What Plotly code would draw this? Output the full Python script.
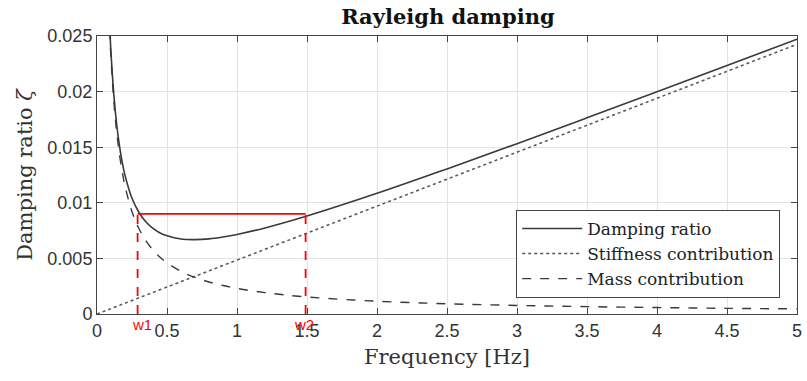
import plotly.graph_objects as go

# Frequencies [Hz] at which curves were read
freq = [0.09, 0.1, 0.12, 0.14, 0.16, 0.18, 0.2, 0.25, 0.3, 0.35, 0.4, 0.45, 0.5,
        0.6, 0.7, 0.8, 0.9, 1.0, 1.2, 1.5, 2.0, 2.5, 3.0, 3.5, 4.0, 4.5, 5.0]
damping = [0.0260, 0.02349, 0.01975, 0.01711, 0.01516, 0.01365, 0.01247, 0.01041,
           0.00913, 0.00827, 0.00769, 0.00729, 0.00703, 0.00674, 0.00669, 0.00676,
           0.00693, 0.00715, 0.00774, 0.00881, 0.01085, 0.01305, 0.01532, 0.01764,
           0.01998, 0.02234, 0.02471]
mass = [0.02556, 0.0230, 0.01917, 0.01643, 0.01438, 0.01278, 0.0115, 0.0092,
        0.00767, 0.00657, 0.00575, 0.00511, 0.0046, 0.00383, 0.00329, 0.00288,
        0.00256, 0.0023, 0.00192, 0.00153, 0.00115, 0.00092, 0.00077, 0.00066,
        0.00058, 0.00051, 0.00046]
stiff_freq = [0.0, 5.0]
stiffness = [0.0, 0.02425]

w1, w2 = 0.29, 1.49
zeta_target = 0.009

xticks = [0, 0.5, 1, 1.5, 2, 2.5, 3, 3.5, 4, 4.5, 5]
xticklabels = ["0", "0.5", "1", "1.5", "2", "2.5", "3", "3.5", "4", "4.5", "5"]
yticks = [0, 0.005, 0.01, 0.015, 0.02, 0.025]
yticklabels = ["0", "0.005", "0.01", "0.015", "0.02", "0.025"]

serif = "DejaVu Serif, serif"
sans = "Liberation Sans, Arial, sans-serif"

fig = go.Figure()
fig.add_trace(go.Scatter(x=freq, y=damping, mode="lines", name="Damping ratio",
                         line=dict(color="#3a3a3a", width=1.6, shape="spline")))
fig.add_trace(go.Scatter(x=stiff_freq, y=stiffness, mode="lines", name="Stiffness contribution",
                         line=dict(color="#555555", width=1.5, dash="dot")))
fig.add_trace(go.Scatter(x=freq, y=mass, mode="lines", name="Mass contribution",
                         line=dict(color="#3a3a3a", width=1.4, dash="dash", shape="spline")))

# red design markers
fig.add_trace(go.Scatter(x=[w1, w2], y=[zeta_target, zeta_target], mode="lines",
                         line=dict(color="red", width=1.8), showlegend=False))
fig.add_trace(go.Scatter(x=[w1, w1], y=[0, zeta_target], mode="lines",
                         line=dict(color="red", width=1.8, dash="dash"), showlegend=False))
fig.add_trace(go.Scatter(x=[w2, w2], y=[0, zeta_target], mode="lines",
                         line=dict(color="red", width=1.8, dash="dash"), showlegend=False))

for xv, lbl in [(w1 + 0.03, "w1"), (w2 - 0.01, "w2")]:
    fig.add_annotation(x=xv, y=0, xref="x", yref="y", text=lbl, showarrow=False,
                       yanchor="top", yshift=0, font=dict(color="red", size=15, family=sans))

axis_common = dict(showline=True, linecolor="#444444", linewidth=1, mirror="ticks",
                   ticks="inside", ticklen=6, tickcolor="#444444",
                   showgrid=True, gridcolor="#e3e3e3", gridwidth=1, zeroline=False,
                   ticklabeloverflow="allow",
                   tickfont=dict(family=sans, size=18, color="#333333"))

fig.update_xaxes(range=[0, 5], tickvals=xticks, ticktext=xticklabels,
                 title=dict(text="Frequency [Hz]", font=dict(family=serif, size=21, color="#333333"),
                            standoff=9), **axis_common)
fig.update_yaxes(range=[0, 0.025], tickvals=yticks, ticktext=yticklabels,
                 title=dict(text="Damping ratio <i>ζ</i>", font=dict(family=serif, size=21, color="#333333"),
                            standoff=9), **axis_common)

fig.update_layout(
    width=807, height=381,
    margin=dict(l=97, r=5, t=36, b=67),
    plot_bgcolor="white", paper_bgcolor="white",
    title=dict(text="<b>Rayleigh damping</b>", x=0.555, xanchor="center", y=0.955, yanchor="middle",
               font=dict(family=serif, size=21, color="#111111")),
    legend=dict(x=0.976, y=0.058, xanchor="right", yanchor="bottom",
                bgcolor="white", bordercolor="#444444", borderwidth=1,
                font=dict(family=serif, size=17, color="#222222"),
                tracegroupgap=0, itemwidth=60),
    showlegend=True,
)

fig.write_html("out.html")
